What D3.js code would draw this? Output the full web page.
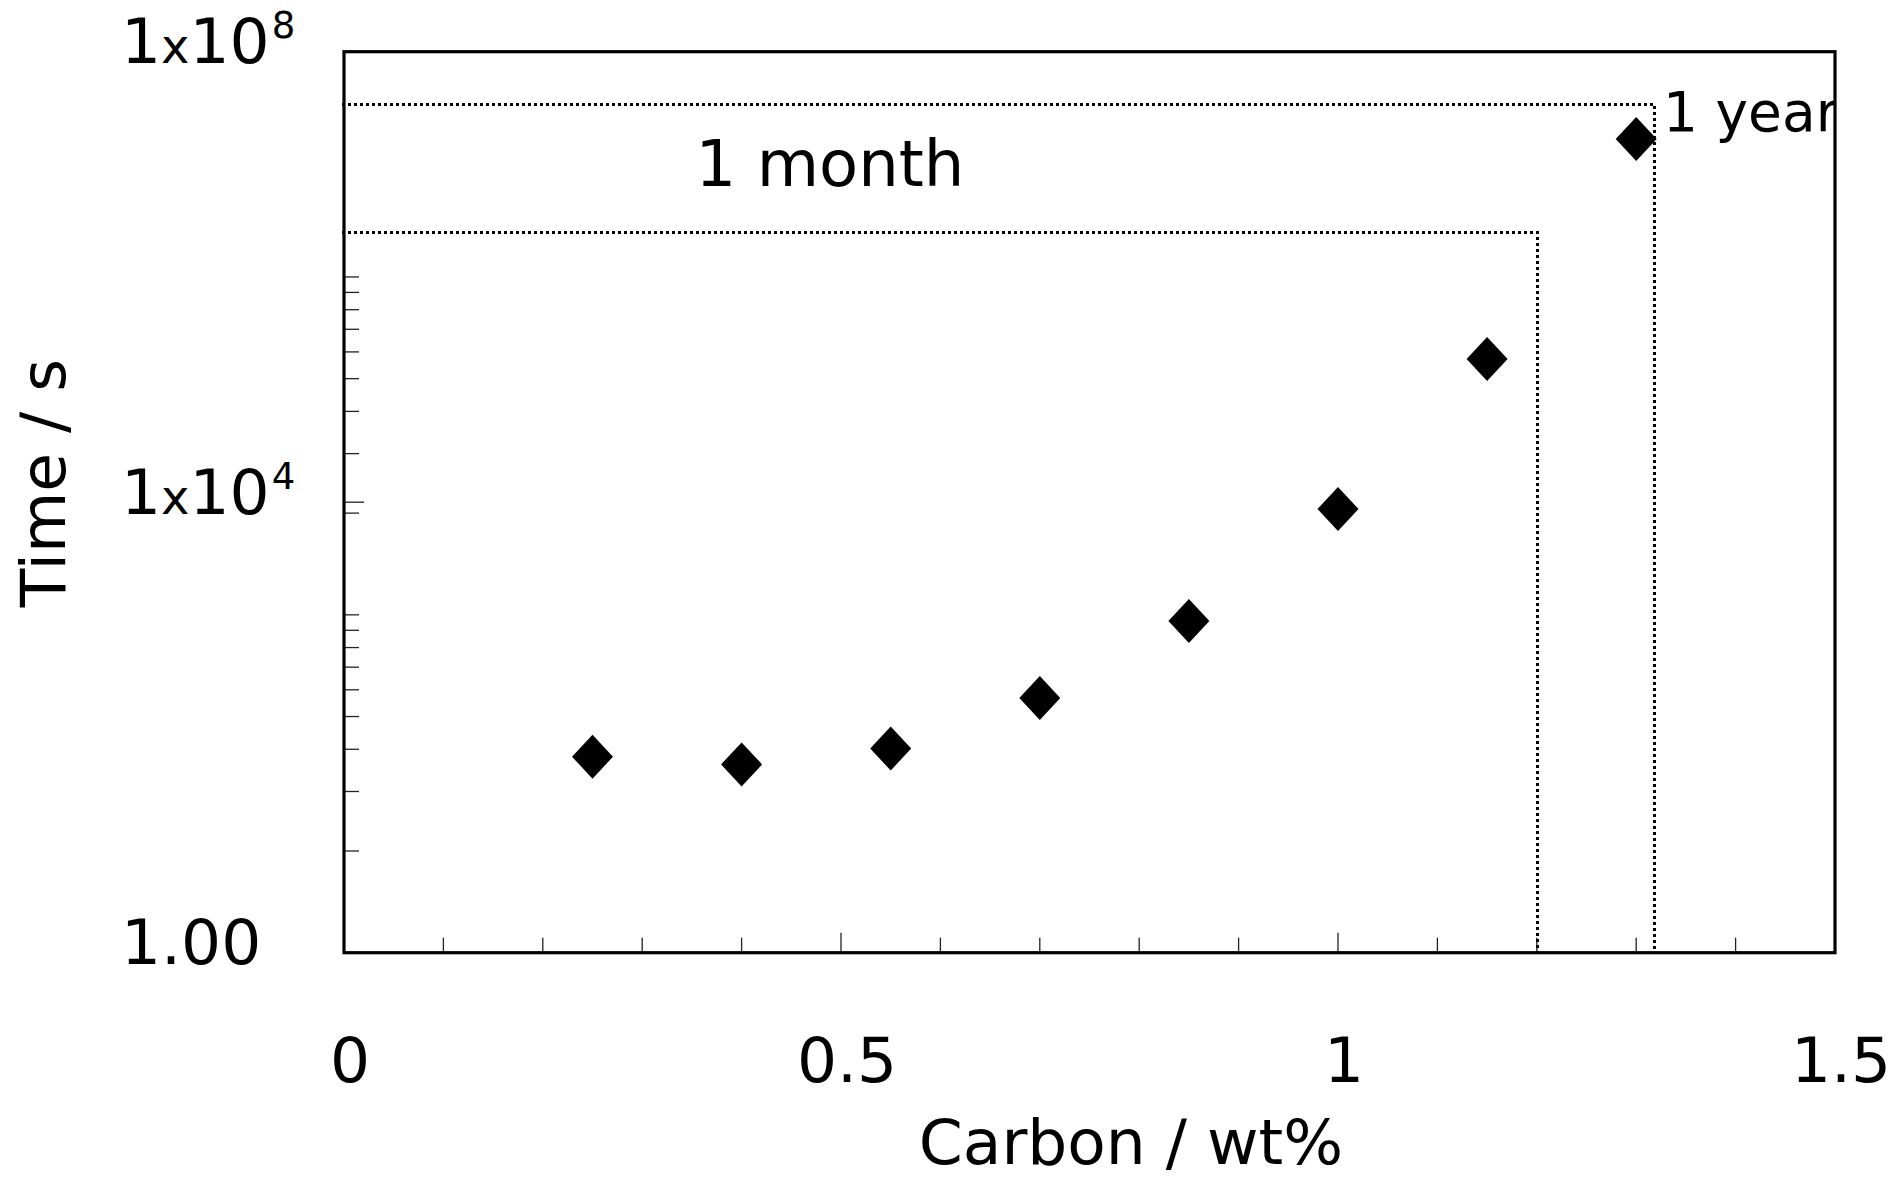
<!DOCTYPE html>
<html>
<head>
<meta charset="utf-8">
<script src="https://cdn.jsdelivr.net/npm/d3@7"></script>
<style>
  html, body { margin: 0; padding: 0; background: #fff; }
  svg { display: block; font-family: "DejaVu Sans", sans-serif; }
</style>
</head>
<body>
<svg id="chart" width="1900" height="1179"></svg>
<script>
// ---- data ----
const carbon = [0.25, 0.4, 0.55, 0.7, 0.85, 1.0, 1.15, 1.3];
const timeS  = [55, 47, 65, 183, 880, 8700, 187000, 1.68e7];

const xTickValues = [0, 0.5, 1, 1.5];
const xTickLabels = ["0", "0.5", "1", "1.5"];
const xMinorTicks = [0.1, 0.2, 0.3, 0.4, 0.6, 0.7, 0.8, 0.9, 1.1, 1.2, 1.3, 1.4];

const yMajorTicks = [1, 1e4, 1e8];
const yTickBase = ["1.00", "1", "1"];
const yTickExp  = [null, "4", "8"];
const yMinorTicks = [8, 27, 64, 125, 216, 343, 512, 729, 1000,
                     8000, 27000, 64000, 125000, 216000, 343000, 512000, 729000, 1e6];

const refLabels = ["1 month", "1 year"];
const refTime   = [2.5e6, 3.4e7];
const refCarbon = [1.2, 1.318];

const xTitle = "Carbon / wt%";
const yTitle = "Time / s";

// ---- layout ----
const L = 344, R = 1835, T = 51.7, B = 952.7;
const svg = d3.select("#chart");

const x = d3.scaleLinear().domain([0, 1.5]).range([L, R]);
const y = d3.scaleLog().domain([1, 1e8]).range([B, T]);

// clip
svg.append("clipPath").attr("id", "plotclip")
  .append("rect").attr("x", L).attr("y", T).attr("width", R - L).attr("height", B - T);

// ticks
const tickG = svg.append("g").attr("stroke", "#222").attr("stroke-width", 1.3);
tickG.selectAll("line.ym").data(yMinorTicks).join("line")
  .attr("x1", L).attr("x2", L + 15)
  .attr("y1", d => y(d)).attr("y2", d => y(d));
tickG.selectAll("line.yM").data(yMajorTicks).join("line")
  .attr("x1", L).attr("x2", L + 20)
  .attr("y1", d => y(d)).attr("y2", d => y(d));
tickG.selectAll("line.xm").data(xMinorTicks).join("line")
  .attr("x1", d => x(d)).attr("x2", d => x(d))
  .attr("y1", B).attr("y2", B - 15);
tickG.selectAll("line.xM").data(xTickValues).join("line")
  .attr("x1", d => x(d)).attr("x2", d => x(d))
  .attr("y1", B).attr("y2", B - 20);

// reference dotted lines
const refG = svg.append("g").attr("fill", "none").attr("stroke", "#000")
  .attr("stroke-width", 3).attr("stroke-dasharray", "3,3");
refTime.forEach((t, i) => {
  refG.append("path")
    .attr("d", `M${L - 2},${Math.round(y(t)) + 0.5}H${Math.round(x(refCarbon[i])) + 0.5}V${B}`);
});

// reference labels
const labG = svg.append("g").attr("clip-path", "url(#plotclip)").attr("fill", "#000");
labG.append("text")
  .attr("x", 830).attr("y", y(refTime[0]) - 46)
  .attr("text-anchor", "middle").attr("font-size", 64)
  .text(refLabels[0]);
labG.append("text")
  .attr("x", x(refCarbon[1]) + 9).attr("y", y(refTime[1]) + 27)
  .attr("font-size", 55)
  .text(refLabels[1]);

// points
const hw = 20.5, hh = 22;
svg.append("g").selectAll("path").data(carbon).join("path")
  .attr("transform", (d, i) => `translate(${x(d)},${y(timeS[i])})`)
  .attr("d", `M0,${-hh}L${hw},0L0,${hh}L${-hw},0Z`)
  .attr("fill", "#000");

// frame
svg.append("rect").attr("x", L).attr("y", T).attr("width", R - L).attr("height", B - T)
  .attr("fill", "none").attr("stroke", "#000").attr("stroke-width", 3.2);

// y tick labels
const yl = svg.append("g").attr("fill", "#000");
yMajorTicks.forEach((v, i) => {
  const t = yl.append("text").attr("x", 121).attr("y", y(v) + 11.5).attr("font-size", 63);
  if (yTickExp[i] === null) {
    t.text(yTickBase[i]);
  } else {
    t.append("tspan").text(yTickBase[i]);
    t.append("tspan").attr("font-size", 48).text("x");
    t.append("tspan").text("10");
    t.append("tspan").attr("font-size", 37).attr("dy", -25).attr("dx", 2).text(yTickExp[i]);
  }
});

// x tick labels
svg.append("g").selectAll("text").data(xTickValues).join("text")
  .attr("x", d => x(d) + 6).attr("y", 1082)
  .attr("text-anchor", "middle").attr("font-size", 63)
  .text((d, i) => xTickLabels[i]);

// axis titles
svg.append("text").attr("x", 1131).attr("y", 1164)
  .attr("text-anchor", "middle").attr("font-size", 63).text(xTitle);
svg.append("text")
  .attr("transform", "translate(65,483) rotate(-90)")
  .attr("text-anchor", "middle").attr("font-size", 63).text(yTitle);
</script>
</body>
</html>
